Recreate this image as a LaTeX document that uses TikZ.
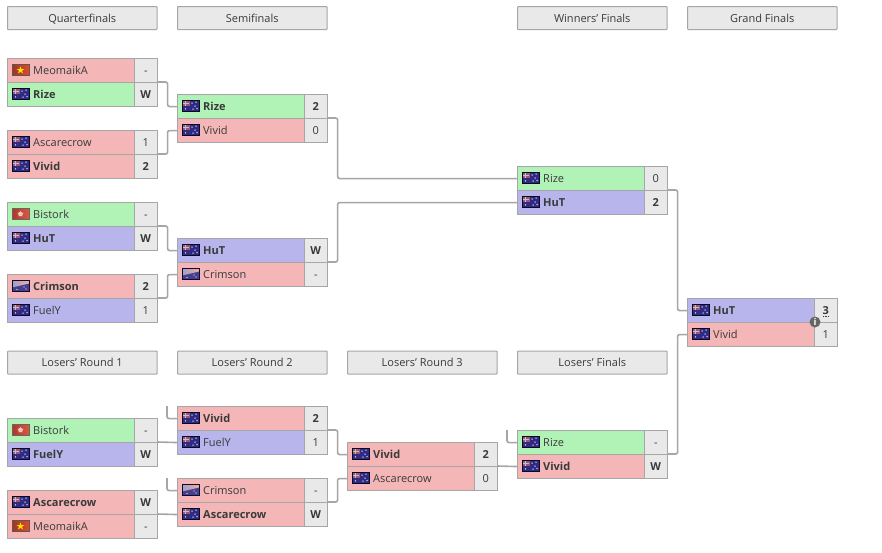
\documentclass[tikz,border=0pt]{standalone}
\usepackage{fontspec}
\setmainfont{Open Sans}
\definecolor{cred}{HTML}{F4B6B6}
\definecolor{cgreen}{HTML}{B1F2B7}
\definecolor{cblue}{HTML}{B8B4EC}
\definecolor{cgrey}{HTML}{E9E9E9}
\definecolor{cline}{HTML}{A6A6A6}
\definecolor{ctext}{HTML}{3A3A3A}
\definecolor{aublue}{HTML}{2F2A85}
\definecolor{hkred}{HTML}{D8452E}
\tikzset{
  x=1pt,y=-1pt,
  txt/.style={font=\fontsize{11}{13}\selectfont,text=ctext,inner sep=0pt,text height=8pt,text depth=0pt},
  header/.style={txt,draw=cline,fill=cgrey,line width=1pt,minimum width=149.5pt,minimum height=23pt,anchor=north west,rounded corners=.7pt},
  namecell/.style={draw=cline,line width=1.1pt,minimum width=127pt,minimum height=24pt,anchor=north west,inner sep=0pt},
  scorecell/.style={txt,draw=cline,fill=cgrey,line width=1.1pt,minimum width=22.5pt,minimum height=24pt,anchor=north west},
  label/.style={txt,anchor=west},
  wire/.style={draw=cline,line width=1.6pt,rounded corners=2pt},
}
% #1 id, #2 x, #3 y, #4 colour, #5 flag, #6 text, #7 score
\newcommand{\plr}[7]{%
  \node[namecell,fill=#4] (#1n) at (#2,#3) {};
  \node[scorecell] (#1s) at (#2+127,#3) {#7};
  \flagdraw{#5}{#2+5}{#3+12}
  \node[label] (#1t) at (#2+26,#3+12) {#6};
}
\newcommand{\flagdraw}[3]{\begin{scope}[shift={(#2,#3)}]\csname fl#1\endcsname\end{scope}}
\newcommand{\flau}{%
  \fill[aublue] (0,-5.5) rectangle (17,5.5);
  \fill[hkred!55!aublue!85!white] (0,-5.5) rectangle (7.5,-.2);
  \draw[white!70!aublue,line width=.9pt] (3.7,-5) -- (3.7,-.5);
  \draw[white!70!aublue,line width=.8pt] (.5,-2.8) -- (7,-2.8);
  \foreach \a/\b in {10/-3,13/0,14/-4,11/3,3.5/2.8,15/2.5}{\fill[white!85!aublue] (\a,\b) circle (.75pt);}
  \draw[black!75!aublue,line width=.7pt] (0,-5.5) rectangle (17,5.5);
}
\newcommand{\flvn}{%
  \shade[left color=hkred!75!black,right color=hkred!90!orange] (0,-5.5) rectangle (17,5.5);
  \fill[yellow!85!orange] (8.5,-3.6) -- (9.5,-1) -- (12.3,-1) -- (10,.7) -- (11,3.4) -- (8.5,1.8) -- (6,3.4) -- (7,.7) -- (4.7,-1) -- (7.5,-1) -- cycle;
  \draw[black!65,line width=.7pt] (0,-5.5) rectangle (17,5.5);
}
\newcommand{\flhk}{%
  \shade[left color=hkred!80!black,right color=hkred!90!white] (0,-5.5) rectangle (17,5.5);
  \foreach \a in {0,72,144,216,288}{\fill[white!70!hkred,rotate around={\a:(8.5,0)}] (8.5,-.4) ellipse (1pt and 2.6pt);}
  \draw[black!60,line width=.7pt] (0,-5.5) rectangle (17,5.5);
}
\newcommand{\flcr}{%
  \fill[aublue!90!white] (0,-5.5) rectangle (17,5.5);
  \shade[left color=aublue!45!white,right color=hkred!45!white] (0,-5.5) -- (17,-5.5) -- (17,-2.5) -- (0,1.5) -- cycle;
  \foreach \a/\b in {12/1,14/3,5/3.5}{\fill[white] (\a,\b) circle (.6pt);}
  \draw[black!70!aublue,line width=.7pt] (0,-5.5) rectangle (17,5.5);
}
\begin{document}
\begin{tikzpicture}
\useasboundingbox (0,0) rectangle (882,552);
\fill[white] (0,0) rectangle (882,552);
% headers
\foreach \id/\a/\b/\t in {h1/7/6/Quarterfinals,h2/177/6/Semifinals,h3/517/6/Winners' Finals,h4/687/6/Grand Finals,
  h5/7/350.5/Losers' Round 1,h6/177/350.5/Losers' Round 2,h7/347/350.5/Losers' Round 3,h8/517/350.5/Losers' Finals}
  {\node[header] (\id) at (\a,\b) {\t};}
% matches
\plr{qa}{7}{58}{cred}{vn}{MeomaikA}{-}
\plr{qb}{7}{82}{cgreen}{au}{\textbf{Rize}}{\textbf{W}}
\plr{qc}{7}{130}{cred}{au}{Ascarecrow}{1}
\plr{qd}{7}{154}{cred}{au}{\textbf{Vivid}}{\textbf{2}}
\plr{qe}{7}{202}{cgreen}{hk}{Bistork}{-}
\plr{qf}{7}{226}{cblue}{au}{\textbf{HuT}}{\textbf{W}}
\plr{qg}{7}{274}{cred}{cr}{\textbf{Crimson}}{\textbf{2}}
\plr{qh}{7}{298}{cblue}{au}{FuelY}{1}
\plr{sa}{177}{94}{cgreen}{au}{\textbf{Rize}}{\textbf{2}}
\plr{sb}{177}{118}{cred}{au}{Vivid}{0}
\plr{sc}{177}{238}{cblue}{au}{\textbf{HuT}}{\textbf{W}}
\plr{sd}{177}{262}{cred}{cr}{Crimson}{-}
\plr{wa}{517}{166}{cgreen}{au}{Rize}{0}
\plr{wb}{517}{190}{cblue}{au}{\textbf{HuT}}{\textbf{2}}
\plr{ga}{687}{298}{cblue}{au}{\textbf{HuT}}{\textbf{3}}
\plr{gb}{687}{322}{cred}{au}{Vivid}{1}
\plr{ka}{7}{418}{cgreen}{hk}{Bistork}{-}
\plr{kb}{7}{442}{cblue}{au}{\textbf{FuelY}}{\textbf{W}}
\plr{kc}{7}{490}{cred}{au}{\textbf{Ascarecrow}}{\textbf{W}}
\plr{kd}{7}{514}{cred}{vn}{MeomaikA}{-}
\plr{la}{177}{406}{cred}{au}{\textbf{Vivid}}{\textbf{2}}
\plr{lb}{177}{430}{cblue}{au}{FuelY}{1}
\plr{lc}{177}{478}{cred}{cr}{Crimson}{-}
\plr{ld}{177}{502}{cred}{au}{\textbf{Ascarecrow}}{\textbf{W}}
\plr{ma}{347}{442}{cred}{au}{\textbf{Vivid}}{\textbf{2}}
\plr{mb}{347}{466}{cred}{au}{Ascarecrow}{0}
\plr{fa}{517}{430}{cgreen}{au}{Rize}{-}
\plr{fb}{517}{454}{cred}{au}{\textbf{Vivid}}{\textbf{W}}
% free ends of stubs
\coordinate (st1) at (167,406);
\coordinate (st2) at (167,478);
\coordinate (st3) at (507,430);
% connectors
\draw[wire] (qbs.north east) -- ++(10,0) |- (san.west);
\draw[wire] (qds.north east) -- ++(10,0) |- (sbn.west);
\draw[wire] (qfs.north east) -- ++(10,0) |- (scn.west);
\draw[wire] (qhs.north east) -- ++(10,0) |- (sdn.west);
\draw[wire] (sbs.north east) -- ++(10,0) |- (wan.west);
\draw[wire] (sds.north east) -- ++(10,0) |- (wbn.west);
\draw[wire] (wbs.north east) -- ++(10,0) |- (gan.west);
\draw[wire] (fbs.north east) -- ++(10,0) |- (gbn.west);
\draw[wire] (kbs.north east) -- (lbn.west);
\draw[wire] (kds.north east) -- (ldn.west);
\draw[wire] (st1) |- (lan.west);
\draw[wire] (st2) |- (lcn.west);
\draw[wire] (lbs.north east) -- ++(10,0) |- (man.west);
\draw[wire] (lds.north east) -- ++(10,0) |- (mbn.west);
\draw[wire] (mbs.north east) -- (fbn.west);
\draw[wire] (st3) |- (fan.west);
% info badge
\node[circle,fill=black!60,minimum size=11pt,inner sep=0pt,text=white,font=\fontsize{9.5}{10}\bfseries\selectfont] (info) at (815,322) {i};
\draw[ctext,line width=.6pt,densely dotted] (823,316) -- (829,316);
\end{tikzpicture}
\end{document}
